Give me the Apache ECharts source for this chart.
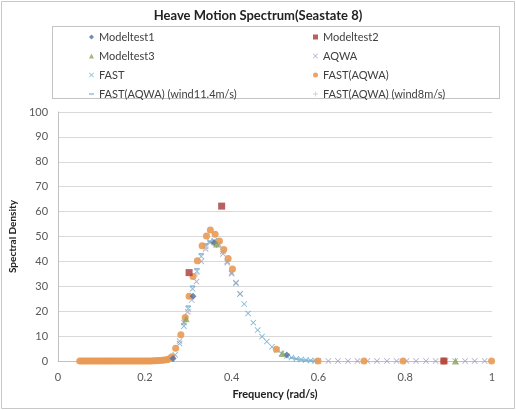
<!DOCTYPE html>
<html><head><meta charset="utf-8">
<script src="https://cdn.jsdelivr.net/npm/echarts@6/dist/echarts.min.js"></script>
<style>html,body{margin:0;padding:0;background:#fff}#c{width:516px;height:410px}</style>
</head><body><div id="c"></div>
<script>
// ---- data ----
var xTicks = [0, 0.2, 0.4, 0.6, 0.8, 1];
var yTicks = [0,10,20,30,40,50,60,70,80,90,100];

var model1X = [0.265, 0.311, 0.360, 0.527];
var model1Y = [1.0, 26.0, 47.5, 2.4];

var model2X = [0.302, 0.377, 0.889];
var model2Y = [35.5, 62.2, 0];

var model3X = [0.295, 0.365, 0.517, 0.916];
var model3Y = [17.0, 47.0, 3.0, 0];

var aqwaX = [0.280,0.290,0.299,0.308,0.319,0.330,0.340,0.350,0.360,0.370,0.380,0.390,0.400,0.410,0.420,
             0.600,0.623,0.645,0.668,0.690,0.713,0.735,0.758,0.780,0.803,0.825,0.848,0.870,0.893,0.915,0.938,0.960,0.983];
var aqwaY = [8.0,15.5,19.8,24.5,31.9,40.0,45.0,47.5,48.0,46.5,43.0,39.5,35.0,31.5,27.0,
             0,0,0,0,0,0,0,0,0,0,0,0,0,0,0,0,0,0];

var fastX = [0.250,0.260,0.270,0.280,0.290,0.300,0.310,0.320,0.330,0.340,0.350,0.360,0.370,0.380,0.390,0.400,
             0.410,0.419,0.429,0.438,0.450,0.460,0.470,0.481,0.493,0.504,0.515,0.527,0.538,0.549,0.560,0.571,0.582,0.593];
var fastY = [0.3,0.8,2.5,7.0,14.0,21.0,29.0,36.0,42.0,46.0,48.0,48.3,47.0,44.0,40.0,35.5,
             31.2,26.9,22.9,19.1,15.4,12.4,9.8,7.8,5.7,4.4,3.1,2.0,1.4,0.9,0.6,0.4,0.2,0.1];

var fastAqwaX = [0.050,0.055,0.060,0.065,0.070,0.075,0.080,0.085,0.090,0.095,0.100,0.105,0.110,0.115,0.120,0.125,
                 0.130,0.135,0.140,0.145,0.150,0.155,0.160,0.165,0.170,0.175,0.180,0.185,0.190,0.195,0.200,0.205,
                 0.210,0.215,0.220,0.225,0.230,0.235,0.240,0.245,0.250,
                 0.255,0.262,0.271,0.283,0.293,0.302,0.311,0.321,0.332,0.342,0.351,0.362,0.372,0.382,0.392,0.402,
                 0.503,0.599,0.705,0.795,0.889,0.999];
var fastAqwaY = [0,0,0,0,0,0,0,0,0,0,0,0,0,0,0,0,
                 0,0,0,0,0,0,0,0,0,0,0,0,0,0,0,0,
                 0,0,0.1,0.1,0.2,0.2,0.3,0.4,0.5,
                 0.8,1.7,5.1,10.5,17.5,26.0,33.9,40.3,46.3,50.2,52.6,50.9,48.2,44.8,41.2,36.9,
                 4.7,0,0,0,0,0];

var wind11X = [0.290,0.300,0.310,0.320,0.330,0.340,0.350,0.540,0.550,0.560,0.570,0.580,0.590];
var wind11Y = [15.0,22.0,30.0,37.0,43.0,47.0,48.0,1.2,0.8,0.5,0.3,0.2,0.1];

var wind8X = [0.300,0.320,0.340,0.360];
var wind8Y = [20.0,35.0,45.5,47.5];

var seriesNames = ['Modeltest1','Modeltest2','Modeltest3','AQWA','FAST','FAST(AQWA)',
                   'FAST(AQWA) (wind11.4m/s)','FAST(AQWA) (wind8m/s)'];

function pairs(xs, ys){ return xs.map(function(x,i){ return [x, ys[i]]; }); }

var X_SYM = 'path://M0,1L1,0L5,4L9,0L10,1L6,5L10,9L9,10L5,6L1,10L0,9L4,5Z';
var PLUS_SYM = 'path://M4,0H6V4H10V6H6V10H4V6H0V4H4Z';
var DASH_SYM = 'path://M0,0H10V3H0Z';
var FONT = 'Lato, "Open Sans", sans-serif';

var legendText = {fontFamily:FONT,fontSize:11,color:'#404040',lineHeight:14};
function legItem(name, icon){ return icon ? {name:name, icon:icon} : {name:name}; }

var chart = echarts.init(document.getElementById('c'), null, {renderer:'canvas'});
chart.setOption({
  animation:false,
  backgroundColor:'#fff',
  title:{text:'Heave Motion Spectrum(Seastate 8)', left:'center', top:4,
    textStyle:{fontFamily:FONT, fontSize:13, fontWeight:'bold', color:'#222'}},
  graphic:[
    {type:'rect', shape:{x:1.5,y:1.5,width:513,height:407}, style:{fill:'none',stroke:'#c8c8c8',lineWidth:1}, silent:true},
    {type:'rect', shape:{x:52.5,y:26.5,width:447,height:72}, style:{fill:'none',stroke:'#888',lineWidth:1,lineDash:[1,1]}, silent:true}
  ],
  legend:[
    {data:[legItem(seriesNames[0],'diamond'),legItem(seriesNames[2],'triangle'),legItem(seriesNames[4],X_SYM),legItem(seriesNames[6],DASH_SYM)],
     orient:'vertical', left:84, top:25, itemWidth:5, itemHeight:5, itemGap:5, textStyle:legendText},
    {data:[legItem(seriesNames[1],'rect'),legItem(seriesNames[3],X_SYM),legItem(seriesNames[5],'circle'),legItem(seriesNames[7],PLUS_SYM)],
     orient:'vertical', left:308, top:25, itemWidth:5, itemHeight:5, itemGap:5, textStyle:legendText}
  ],
  grid:{left:51, right:24, top:112, bottom:49, containLabel:false},
  xAxis:{type:'value', min:0, max:1, interval:0.2,
    name:'Frequency (rad/s)', nameLocation:'middle', nameGap:28,
    nameTextStyle:{fontFamily:FONT,fontSize:11,fontWeight:'bold',color:'#222'},
    axisLine:{show:true,onZero:false,lineStyle:{color:'#c0c0c0'}}, axisTick:{show:false},
    axisLabel:{fontFamily:FONT,fontSize:11,color:'#595959',margin:11,
      formatter:function(v){ for(var i=0;i<xTicks.length;i++){ if(Math.abs(v-xTicks[i])<1e-9) return String(xTicks[i]); } return ''; }},
    splitLine:{show:false}},
  yAxis:{type:'value', min:0, max:100, interval:10,
    name:'Spectral Density', nameLocation:'middle', nameGap:33,
    nameTextStyle:{fontFamily:FONT,fontSize:10,fontWeight:'bold',color:'#222'},
    axisLine:{show:true,lineStyle:{color:'#c0c0c0'}}, axisTick:{show:false},
    axisLabel:{fontFamily:FONT,fontSize:11,color:'#595959',margin:10,
      formatter:function(v){ return yTicks.indexOf(v)>=0 ? String(v) : ''; }},
    splitLine:{show:true,lineStyle:{color:'#d9d9d9'}}},
  series:[
    {name:seriesNames[4], type:'scatter', data:pairs(fastX,fastY), symbol:X_SYM, symbolSize:6, itemStyle:{color:'#5fa9c8'}, z:2},
    {name:seriesNames[3], type:'scatter', data:pairs(aqwaX,aqwaY), symbol:X_SYM, symbolSize:6, itemStyle:{color:'#9a98bd'}, z:2},
    {name:seriesNames[7], type:'scatter', data:pairs(wind8X,wind8Y), symbol:PLUS_SYM, symbolSize:6, itemStyle:{color:'#c8c8d0'}, z:3},
    {name:seriesNames[6], type:'scatter', data:pairs(wind11X,wind11Y), symbol:'rect', symbolSize:[5,2], itemStyle:{color:'#7fb0cf'}, z:3},
    {name:seriesNames[5], type:'scatter', data:pairs(fastAqwaX,fastAqwaY), symbol:'circle', symbolSize:7, itemStyle:{color:'#e99a55',opacity:0.9}, z:4},
    {name:seriesNames[0], type:'scatter', data:pairs(model1X,model1Y), symbol:'diamond', symbolSize:7, itemStyle:{color:'#4f6fa0'}, z:5},
    {name:seriesNames[2], type:'scatter', data:pairs(model3X,model3Y), symbol:'triangle', symbolSize:7, itemStyle:{color:'#8fa55a'}, z:5},
    {name:seriesNames[1], type:'scatter', data:pairs(model2X,model2Y), symbol:'rect', symbolSize:7, itemStyle:{color:'#a8393a'}, z:6}
  ]
});
</script></body></html>
